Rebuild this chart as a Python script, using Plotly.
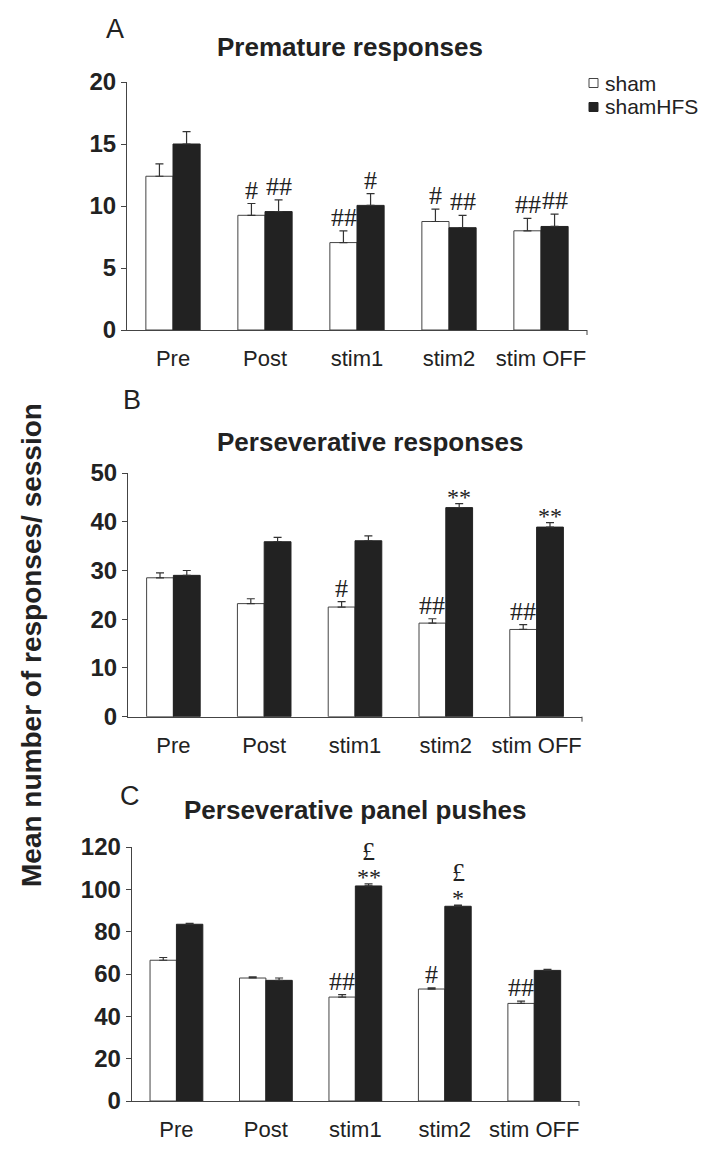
import plotly.graph_objects as go

W, H = 712, 1152

categories = ["Pre", "Post", "stim1", "stim2", "stim OFF"]
series_names = ["sham", "shamHFS"]

# Panel A: Premature responses
A_sham = [12.4, 9.25, 7.05, 8.75, 8.0]
A_sham_err = [1.0, 0.95, 0.95, 1.0, 1.0]
A_hfs = [15.0, 9.55, 10.05, 8.25, 8.35]
A_hfs_err = [1.0, 0.95, 0.95, 1.0, 1.0]

# Panel B: Perseverative responses
B_sham = [28.5, 23.2, 22.5, 19.2, 17.9]
B_sham_err = [1.0, 1.0, 1.1, 0.9, 1.0]
B_hfs = [29.0, 35.9, 36.1, 42.9, 38.9]
B_hfs_err = [1.0, 0.9, 1.0, 0.8, 0.9]

# Panel C: Perseverative panel pushes
C_sham = [66.5, 58.1, 49.1, 52.9, 46.1]
C_sham_err = [1.3, 0.5, 1.2, 0.5, 1.1]
C_hfs = [83.5, 57.0, 101.6, 92.0, 61.7]
C_hfs_err = [0.4, 1.1, 1.0, 0.5, 0.5]

panel_titles = ["Premature responses", "Perseverative responses", "Perseverative panel pushes"]
panel_letters = ["A", "B", "C"]
y_ranges = [[0, 20], [0, 50], [0, 120]]
y_dticks = [5, 10, 20]
y_title = "Mean number of responses/ session"

# Significance marks: (panel index, category index, series index, text)
marks = [
    (0, 1, 0, "#"), (0, 1, 1, "##"),
    (0, 2, 0, "##"), (0, 2, 1, "#"),
    (0, 3, 0, "#"), (0, 3, 1, "##"),
    (0, 4, 0, "##"), (0, 4, 1, "##"),
    (1, 2, 0, "#"), (1, 3, 0, "##"), (1, 4, 0, "##"),
    (1, 3, 1, "**"), (1, 4, 1, "**"),
    (2, 2, 0, "##"), (2, 3, 0, "#"), (2, 4, 0, "##"),
    (2, 2, 1, "**"), (2, 3, 1, "*"),
]
# marks stacked above the first mark line
upper_marks = [(2, 2, 1, "£"), (2, 3, 1, "£")]

panels = [
    (A_sham, A_sham_err, A_hfs, A_hfs_err),
    (B_sham, B_sham_err, B_hfs, B_hfs_err),
    (C_sham, C_sham_err, C_hfs, C_hfs_err),
]

# layout geometry (pixels)
x_px = [(127, 587), (128, 582), (131.7, 579)]
y_px = [(82, 330), (473, 716.7), (847, 1101)]
title_px = [(350, 47), (370, 442), (355, 810)]
letter_px = [(115, 29), (132, 400), (130, 796)]

SANS = "Liberation Sans, Arial, sans-serif"
SERIF = "Liberation Serif, Times New Roman, serif"
DARK = "#222222"

fig = go.Figure()
layout = dict(
    width=W, height=H, autosize=False,
    margin=dict(l=0, r=0, t=0, b=0, pad=0),
    paper_bgcolor="white", plot_bgcolor="white",
    barmode="group", bargap=0.41, bargroupgap=0,
    font=dict(family=SANS, color=DARK),
    showlegend=False,
)
annotations = []
shapes = []

for p, (s, se, h, he) in enumerate(panels):
    xa = "x" if p == 0 else f"x{p+1}"
    ya = "y" if p == 0 else f"y{p+1}"
    fig.add_trace(go.Bar(
        x=categories, y=s, name=series_names[0], xaxis=xa, yaxis=ya,
        marker=dict(color="white", line=dict(color="#444444", width=1)),
        error_y=dict(type="data", array=se, arrayminus=[0] * len(se), symmetric=False,
                     color="#333333", thickness=1.2, width=4),
    ))
    fig.add_trace(go.Bar(
        x=categories, y=h, name=series_names[1], xaxis=xa, yaxis=ya,
        marker=dict(color=DARK, line=dict(color=DARK, width=1)),
        error_y=dict(type="data", array=he, arrayminus=[0] * len(he), symmetric=False,
                     color="#333333", thickness=1.2, width=4),
    ))
    x0, x1 = x_px[p]
    yt, yb = y_px[p]
    key = "" if p == 0 else str(p + 1)
    layout["xaxis" + key] = dict(
        domain=[x0 / W, x1 / W], anchor=ya, automargin=False,
        showline=True, linecolor="#444444", linewidth=1, ticks="",
        tickfont=dict(size=22, family=SANS, color=DARK), ticklabelstandoff=9,
        showgrid=False, zeroline=False, fixedrange=True,
    )
    layout["yaxis" + key] = dict(
        domain=[1 - yb / H, 1 - yt / H], anchor=xa, range=y_ranges[p], dtick=y_dticks[p],
        automargin=False,
        showline=True, linecolor="#444444", linewidth=1, ticks="outside", ticklen=5,
        tickcolor="#444444", tickfont=dict(size=24, family=SANS, color=DARK, weight="bold"),
        showgrid=False, zeroline=False, fixedrange=True,
    )
    # small end tick at the right end of the category axis
    shapes.append(dict(type="line", xref=f"{xa} domain", yref="paper",
                       x0=1, x1=1, y0=1 - yb / H, y1=1 - (yb + 5) / H,
                       line=dict(color="#444444", width=1)))
    tx, ty = title_px[p]
    annotations.append(dict(text="<b>" + panel_titles[p] + "</b>", x=tx / W, y=1 - ty / H,
                            xref="paper", yref="paper", xanchor="center", yanchor="middle",
                            showarrow=False, font=dict(size=26, family=SANS, color=DARK)))
    lx, ly = letter_px[p]
    annotations.append(dict(text=panel_letters[p], x=lx / W, y=1 - ly / H,
                            xref="paper", yref="paper", xanchor="center", yanchor="middle",
                            showarrow=False, font=dict(size=27, family=SANS, color=DARK)))

for (p, c, g, t) in marks:
    vals = panels[p]
    v = vals[2 * g][c] + vals[2 * g + 1][c]
    xa = "x" if p == 0 else f"x{p+1}"
    ya = "y" if p == 0 else f"y{p+1}"
    ysh = -8 if "*" in t else -3
    annotations.append(dict(text=t, x=categories[c], y=v, xref=xa, yref=ya,
                            xshift=-13.5 if g == 0 else 13.5, yshift=ysh,
                            xanchor="center", yanchor="bottom", showarrow=False,
                            font=dict(size=26 if "#" in t else 24, family=SERIF, color=DARK)))
for (p, c, g, t) in upper_marks:
    vals = panels[p]
    v = vals[2 * g][c] + vals[2 * g + 1][c]
    xa = "x" if p == 0 else f"x{p+1}"
    ya = "y" if p == 0 else f"y{p+1}"
    annotations.append(dict(text=t, x=categories[c], y=v, xref=xa, yref=ya,
                            xshift=-13.5 if g == 0 else 13.5, yshift=16,
                            xanchor="center", yanchor="bottom", showarrow=False,
                            font=dict(size=26, family=SERIF, color=DARK)))

# legend (drawn manually for compact row spacing)
legend_rows = [(83, "white", "#444444"), (107, DARK, DARK)]
for (cy, fill, edge), name in zip(legend_rows, series_names):
    shapes.append(dict(type="rect", xref="paper", yref="paper",
                       x0=589 / W, x1=598 / W, y0=1 - (cy + 4.5) / H, y1=1 - (cy - 4.5) / H,
                       fillcolor=fill, line=dict(color=edge, width=1)))
    annotations.append(dict(text=name, x=603 / W, y=1 - cy / H, xref="paper", yref="paper",
                            xanchor="left", yanchor="middle", showarrow=False,
                            font=dict(size=21, family=SANS, color=DARK)))

annotations.append(dict(text="<b>" + y_title + "</b>", x=31 / W, y=1 - 645 / H,
                        xref="paper", yref="paper", xanchor="center", yanchor="middle",
                        textangle=-90, showarrow=False,
                        font=dict(size=28, family=SANS, color=DARK)))
layout["annotations"] = annotations
layout["shapes"] = shapes
fig.update_layout(**layout)
fig.write_html("out.html", config={"displayModeBar": False},
               post_script="document.body.style.margin='0';")
